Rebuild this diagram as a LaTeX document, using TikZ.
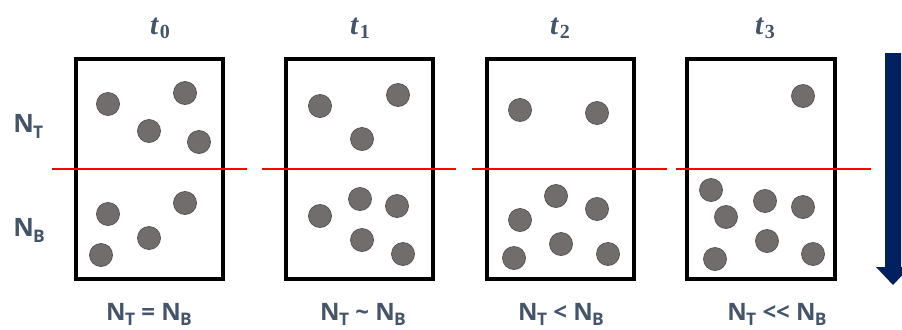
\documentclass[tikz,border=0pt]{standalone}
\usepackage{fontspec}
\setmainfont{Open Sans}
\newfontfamily\serifb{Liberation Serif}
\definecolor{slate}{HTML}{44546A}
\definecolor{navy}{HTML}{002060}
\definecolor{ball}{HTML}{716D6D}
\definecolor{ballrim}{HTML}{5A5656}
\tikzset{
  box/.style={draw=black, line width=3pt},
  divider/.style={draw=red, line width=2.2pt},
  ball/.style={fill=ball, draw=ballrim, line width=0.6pt},
  timelbl/.style={text=slate, font=\serifb\fontsize{22}{24}\selectfont\bfseries},
  sidelbl/.style={text=slate, font=\fontsize{19}{22}\selectfont\bfseries, inner sep=0pt},
  countlbl/.style={text=slate, font=\fontsize{18}{21}\selectfont\bfseries, inner sep=0pt},
}
\newcommand{\NN}[1]{N\kern-0.5pt\raisebox{-0.45ex}{\fontsize{13}{15}\selectfont #1}}
\newcommand{\TT}[1]{\textit{t}\kern0.5pt\raisebox{-0.35ex}{\fontsize{15}{17}\selectfont #1}}
\begin{document}
\begin{tikzpicture}[x=0.75pt,y=-0.75pt]
\useasboundingbox (0,0) rectangle (902,329);
\clip (0,0) rectangle (902,329);
% boxes
\draw[box] (76,59) rectangle (223,279);
\draw[box] (286,59) rectangle (433,279);
\draw[box] (487,59) rectangle (634,279);
\draw[box] (687,59) rectangle (835,279);
% red lines
\draw[divider] (52,169) -- (247,169);
\draw[divider] (262,169) -- (456,169);
\draw[divider] (472,169) -- (667,169);
\draw[divider] (676,169) -- (871,169);
% balls
\foreach \p in {(108,104),(185,93),(149,131),(199,142),(108,214),(185,203),(149,238),(101,255),
  (320,106),(398,95),(362,139),(360,199),(397,206),(320,216),(362,240),(403,254),
  (520,110),(597,113),(556,196),(520,220),(597,209),(561,244),(514,258),(608,254),
  (803,96),(711,190),(765,201),(803,207),(726,217),(767,241),(715,259),(813,254)}
  \filldraw[ball] \p circle (11.5);
% arrow
\fill[navy] (885,53) -- (901,53) -- (901,267) -- (910,267) -- (893,285) -- (876,267) -- (885,267) -- cycle;
% time labels
\node[timelbl, anchor=base] (t0) at (160,34) {\TT{0}};
\node[timelbl, anchor=base] (t1) at (360,34) {\TT{1}};
\node[timelbl, anchor=base] (t2) at (560,34) {\TT{2}};
\node[timelbl, anchor=base] (t3) at (765,34) {\TT{3}};
% side labels
\node[sidelbl, anchor=base west] (nt) at (13,132) {\NN{T}};
\node[sidelbl, anchor=base west] (nb) at (13,236) {\NN{B}};
% bottom labels
\node[countlbl, anchor=base] (c0) at (149,320) {\NN{T} = \NN{B}};
\node[countlbl, anchor=base] (c1) at (363,320) {\NN{T} \textasciitilde{} \NN{B}};
\node[countlbl, anchor=base] (c2) at (561,320) {\NN{T} < \NN{B}};
\node[countlbl, anchor=base] (c3) at (777,320) {\NN{T} <{}< \NN{B}};
\end{tikzpicture}
\end{document}
